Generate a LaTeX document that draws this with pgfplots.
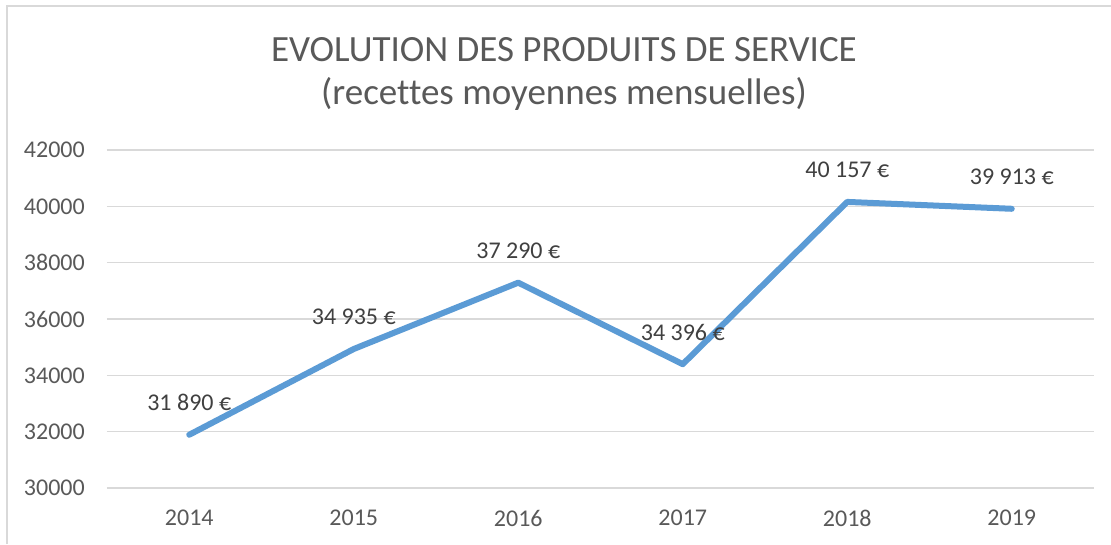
\documentclass[border=0pt]{standalone}
\usepackage{fontspec}
\setmainfont[Ligatures=NoCommon]{Carlito}
\usepackage{pgfplots}
\pgfplotsset{compat=1.18}
\definecolor{tickc}{HTML}{595959}
\definecolor{labc}{HTML}{404040}
\definecolor{gridc}{HTML}{D9D9D9}
\definecolor{linec}{HTML}{5B9BD5}
\begin{document}
\begin{tikzpicture}[x=1pt,y=1pt]
\useasboundingbox (0,0) rectangle (1111,544);
\fill[white] (0,0) rectangle (1111,544);
\draw[color=gridc, line width=2pt] (7,0) -- (7,538) -- (1111,538);
\node[anchor=base, text=tickc, font=\fontsize{37}{44}\selectfont, inner sep=0pt] at (564,482) {EVOLUTION DES PRODUITS DE SERVICE};
\node[anchor=base, text=tickc, font=\fontsize{37}{44}\selectfont, inner sep=0pt] at (564,439) {(recettes moyennes mensuelles)};
\begin{axis}[
  at={(107pt,56pt)}, anchor=south west,
  scale only axis, width=987pt, height=338pt,
  xmin=-0.5, xmax=5.5, ymin=30000, ymax=42000,
  ytick={30000,32000,...,42000},
  scaled y ticks=false,
  xtick={0,1,2,3,4,5},
  xticklabels={2014,2015,2016,2017,2018,2019},
  axis line style={draw=none},
  tick style={draw=none},
  major tick length=0pt,
  ymajorgrids,
  grid style={color=gridc, line width=1.4pt},
  clip=false,
  /pgf/number format/1000 sep={},
  /pgf/number format/assume math mode=true,
  ticklabel style={font=\fontsize{24}{28}\selectfont, text=tickc, inner sep=0pt},
  yticklabel style={anchor=east, xshift=-22pt},
  xticklabel style={anchor=center, yshift=-30pt},
  nodes near coords,
  point meta=explicit symbolic,
  every node near coord/.append style={font=\fontsize{24}{28}\selectfont, text=labc, anchor=center, yshift=32pt, inner sep=0pt},
]
\addplot[color=linec, line width=6pt, line join=round, line cap=round, mark=none] coordinates {
  (0,31890) [31 890 €]
  (1,34935) [34 935 €]
  (2,37290) [37 290 €]
  (3,34396) [34 396 €]
  (4,40157) [40 157 €]
  (5,39913) [39 913 €]
};
\end{axis}
\end{tikzpicture}
\end{document}
